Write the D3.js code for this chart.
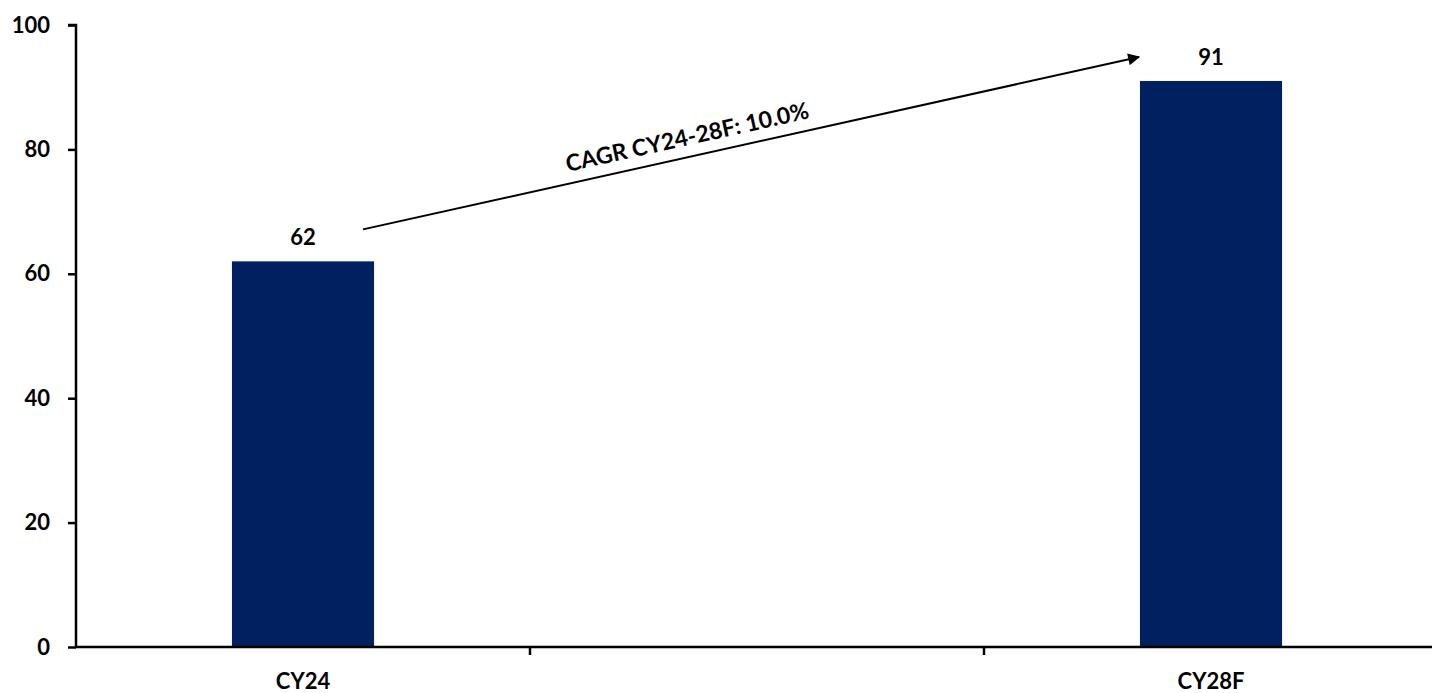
<!DOCTYPE html>
<html>
<head>
<meta charset="utf-8">
<script src="https://cdn.jsdelivr.net/npm/d3@7"></script>
<style>
  html, body { margin: 0; padding: 0; background: #ffffff; }
  svg { display: block; }
  text { font-family: Lato, "Open Sans", "Liberation Sans", sans-serif; font-weight: 700; fill: #000; }
</style>
</head>
<body>
<script>
// Category slots along the x axis (the middle slot is an empty spacer)
const categories = ["CY24", "", "CY28F"];
const values = [62, null, 91];
const yTicks = [0, 20, 40, 60, 80, 100];
const cagrLabel = "CAGR CY24-28F: 10.0%";

const W = 1432, H = 693;
const margin = { top: 25, right: -6, bottom: 46, left: 76 };
const FS = 22;

const svg = d3.select("body").append("svg")
  .attr("width", W).attr("height", H);

const x = d3.scaleBand()
  .domain(categories)
  .range([margin.left, W - margin.right])
  .paddingInner(0)
  .paddingOuter(0);

const y = d3.scaleLinear()
  .domain([0, 100])
  .range([H - margin.bottom, margin.top]);

const barW = x.bandwidth() * 0.313;
const barData = categories.map((c, i) => ({ c, v: values[i] })).filter(d => d.v != null);

// Bars
svg.append("g").selectAll("rect")
  .data(barData)
  .join("rect")
  .attr("x", d => x(d.c) + x.bandwidth() / 2 - barW / 2)
  .attr("y", d => y(d.v))
  .attr("width", barW)
  .attr("height", d => y(0) - y(d.v))
  .attr("fill", "#002060");

// Value labels
svg.append("g").selectAll("text")
  .data(barData)
  .join("text")
  .attr("x", d => x(d.c) + x.bandwidth() / 2)
  .attr("y", d => y(d.v) - 16)
  .attr("text-anchor", "middle")
  .attr("font-size", FS)
  .text(d => d.v);

// Y axis
const yAxis = svg.append("g")
  .attr("transform", `translate(${margin.left},0)`)
  .call(d3.axisLeft(y).tickValues(yTicks).tickSize(8).tickPadding(18).tickFormat(d3.format("d")));
yAxis.select(".domain").attr("stroke", "#000").attr("stroke-width", 2.5).attr("d", `M-8,${y(100)}H0V${y(0)}`);
yAxis.selectAll(".tick line").attr("stroke", "#000").attr("stroke-width", 2.5);
yAxis.selectAll(".tick text")
  .attr("font-size", FS).attr("font-family", "Lato, sans-serif").attr("font-weight", 700)
  .attr("fill", "#000");

// X axis: line with tick marks on category boundaries
const xg = svg.append("g");
xg.append("line")
  .attr("x1", margin.left).attr("x2", W)
  .attr("y1", y(0)).attr("y2", y(0))
  .attr("stroke", "#000").attr("stroke-width", 2.5);
xg.selectAll("line.tk")
  .data(categories.slice(1))
  .join("line").attr("class", "tk")
  .attr("x1", d => x(d)).attr("x2", d => x(d))
  .attr("y1", y(0)).attr("y2", y(0) + 8)
  .attr("stroke", "#000").attr("stroke-width", 2.5);
xg.selectAll("text")
  .data(categories.filter(c => c !== ""))
  .join("text")
  .attr("x", d => x(d) + x.bandwidth() / 2)
  .attr("y", y(0) + 42)
  .attr("text-anchor", "middle")
  .attr("font-size", FS)
  .text(d => d);

// CAGR arrow between the two bars
const defs = svg.append("defs");
defs.append("marker")
  .attr("id", "arrowHead")
  .attr("viewBox", "0 0 10 10")
  .attr("refX", 9).attr("refY", 5)
  .attr("markerWidth", 16).attr("markerHeight", 12)
  .attr("markerUnits", "userSpaceOnUse")
  .attr("orient", "auto")
  .append("path").attr("d", "M0,0L10,5L0,10Z").attr("fill", "#000");

const cFirst = categories[0], cLast = categories[categories.length - 1];
const x0 = x(cFirst) + x.bandwidth() / 2 + 60;
const y0 = y(values[0]) - 32;
const x1 = x(cLast) + x.bandwidth() / 2 - 72;
const y1 = y(values[values.length - 1]) - 24;

svg.append("line")
  .attr("x1", x0).attr("y1", y0).attr("x2", x1).attr("y2", y1)
  .attr("stroke", "#000").attr("stroke-width", 2)
  .attr("marker-end", "url(#arrowHead)");

const ang = Math.atan2(y1 - y0, x1 - x0) * 180 / Math.PI;
const tx = x0 + (x1 - x0) * 0.42, ty = y0 + (y1 - y0) * 0.42 - 12;
svg.append("text")
  .attr("transform", `translate(${tx},${ty}) rotate(${ang})`)
  .attr("text-anchor", "middle")
  .attr("font-size", 23)
  .text(cagrLabel);
</script>
</body>
</html>
